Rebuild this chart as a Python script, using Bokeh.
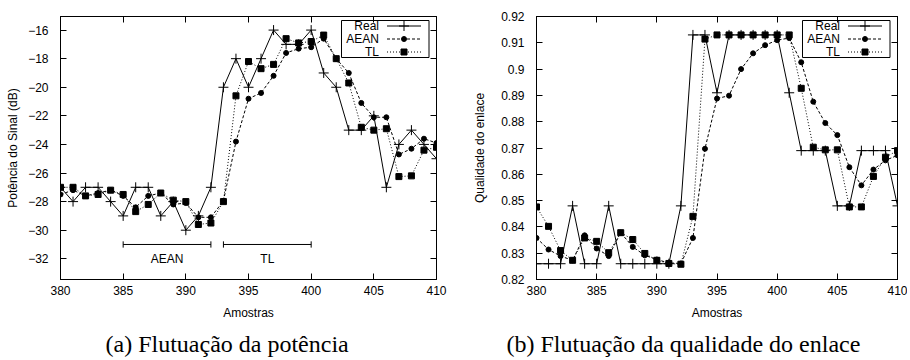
from bokeh.plotting import figure
from bokeh.layouts import row
from bokeh.models import Range1d, FixedTicker, LinearAxis, CustomJSTickFormatter, Title
from bokeh.core.properties import value
from bokeh.embed import file_html
from bokeh.resources import INLINE

# ---------------- data ----------------
amostras = list(range(380, 411))
x_ticks = [380, 385, 390, 395, 400, 405, 410]

series_names = ["Real", "AEAN", "TL"]

pot_real = [-27, -28, -27, -27, -28, -29, -27, -27, -29, -28, -30, -29, -27,
            -20, -18, -20, -18, -16, -17, -17, -16, -19, -20, -23, -23, -22,
            -27, -24, -23, -24, -25]
pot_aean = [-27.5, -27.2, -27.6, -27.4, -27.2, -27.6, -28.4, -27.6, -27.4, -28.2,
            -28.1, -29.1, -29.1, -27.95, -23.8, -20.8, -20.4, -19.2, -17.6, -17.3,
            -17.2, -16.6, -18.0, -19.0, -21.1, -22.1, -22.1, -24.7, -24.3, -23.6, -23.9]
pot_tl = [-27, -27, -27.6, -27.5, -27.2, -27.5, -28.7, -28.2, -27.4, -27.9,
          -28.0, -29.6, -29.5, -28.0, -20.6, -18.2, -18.7, -18.4, -16.6, -16.9,
          -16.8, -16.35, -18.0, -19.7, -22.8, -23.0, -22.9, -26.25, -26.2, -24.4, -24.2]
pot_yticks = [-32, -30, -28, -26, -24, -22, -20, -18, -16]

q_real = [0.826, 0.826, 0.826, 0.848, 0.826, 0.826, 0.848, 0.826, 0.826, 0.826,
          0.826, 0.826, 0.848, 0.913, 0.913, 0.891, 0.913, 0.913, 0.913, 0.913,
          0.913, 0.891, 0.869, 0.869, 0.869, 0.848, 0.848, 0.869, 0.869, 0.869, 0.848]
q_aean = [0.8358, 0.8314, 0.8289, 0.8273, 0.8368, 0.8318, 0.8289, 0.8378, 0.8324,
          0.8292, 0.8276, 0.8263, 0.8261, 0.8358, 0.8697, 0.8888, 0.8899, 0.9000,
          0.9060, 0.9091, 0.9110, 0.9118, 0.9026, 0.8876, 0.8795, 0.8749, 0.8627,
          0.8558, 0.8618, 0.8653, 0.8672]
q_tl = [0.8476, 0.8402, 0.8310, 0.8273, 0.8358, 0.8345, 0.8302, 0.8378, 0.8352,
        0.8299, 0.8273, 0.8261, 0.8258, 0.8440, 0.9114, 0.9130, 0.913, 0.913,
        0.913, 0.913, 0.913, 0.913, 0.8927, 0.8703, 0.8693, 0.8693, 0.8476,
        0.8476, 0.8592, 0.8665, 0.869]
q_yticks = [0.82, 0.83, 0.84, 0.85, 0.86, 0.87, 0.88, 0.89, 0.90, 0.91, 0.92]

# interval annotation in panel (a)
brk_labels = ["AEAN", "TL"]
brk_start = [385, 393]
brk_end = [392, 400]
brk_y = -31
brk_label_y = -32

FONT = "Liberation Sans"
styles = [("solid", "cross", 10), ("3 2", "circle", 5), ("1 2", "square", 6)]


def make_fig(ys, ymin, ymax, yticks, fmt_code, ylabel, caption, cap_off,
             fw, bl, br, lab_standoff):
    fh = 263
    p = figure(frame_width=fw, frame_height=fh,
               x_range=Range1d(380, 410), y_range=Range1d(ymin, ymax),
               output_backend="svg", toolbar_location=None,
               min_border_left=bl, min_border_right=br,
               min_border_top=16, min_border_bottom=78,
               background_fill_color="white", border_fill_color="white")
    p.grid.visible = False
    p.outline_line_color = "black"
    p.outline_line_width = 1

    p.xaxis.ticker = FixedTicker(ticks=x_ticks)
    p.yaxis.ticker = FixedTicker(ticks=yticks)
    p.yaxis.formatter = CustomJSTickFormatter(code=fmt_code)
    p.xaxis.axis_label = "Amostras"
    p.yaxis.axis_label = ylabel
    for ax in (p.xaxis[0], p.yaxis[0]):
        ax.major_tick_in = 6
        ax.major_tick_out = 0
        ax.minor_tick_line_color = None
        ax.axis_line_color = "black"
        ax.major_tick_line_color = "black"
        ax.major_label_text_font = FONT
        ax.major_label_text_font_size = "12px"
        ax.major_label_text_color = "black"
        ax.axis_label_text_font = FONT
        ax.axis_label_text_font_size = "12px"
        ax.axis_label_text_font_style = "normal"
        ax.axis_label_text_color = "black"
    p.xaxis.major_label_standoff = 6
    p.xaxis.axis_label_standoff = 8
    p.yaxis.major_label_standoff = 12
    p.yaxis.axis_label_standoff = lab_standoff

    # mirrored ticks (top / right)
    for side, tk in (("above", x_ticks), ("right", yticks)):
        ax = LinearAxis(ticker=FixedTicker(ticks=tk),
                        formatter=CustomJSTickFormatter(code="return ''"),
                        major_tick_in=6, major_tick_out=0,
                        minor_tick_line_color=None, major_label_standoff=0,
                        major_label_text_font_size="0px",
                        axis_line_color="black", major_tick_line_color="black")
        p.add_layout(ax, side)

    # series
    for yv, (dash, marker, size) in zip(ys, styles):
        p.line(amostras, yv, line_color="black", line_width=1, line_dash=dash)
        p.scatter(amostras, yv, marker=marker, size=size, line_color="black",
                  fill_color="black", line_width=1)

    # legend drawn in gnuplot style (label left, sample right)
    def X(px):
        return 410 - px * (410 - 380) / fw

    def Y(py):
        return ymax - py * (ymax - ymin) / fh

    p.quad(left=[X(95)], right=[X(7.5)], top=[Y(4)], bottom=[Y(41)],
           fill_color="white", line_color="black", line_width=1)
    for i, (name, (dash, marker, size)) in enumerate(zip(series_names, styles)):
        yy = Y(9.5 + 13 * i)
        p.text(x=[X(57.5)], y=[yy], text=[name], text_align="right",
               text_baseline="middle", text_font=value(FONT),
               text_font_size="12px", text_color="black")
        p.line([X(49.5), X(15.5)], [yy, yy], line_color="black", line_width=1,
               line_dash=dash)
        p.scatter([X(32.5)], [yy], marker=marker, size=size, line_color="black",
                  fill_color="black")

    p.add_layout(Title(text=caption, align="left", offset=cap_off,
                       text_font="Liberation Serif", text_font_size="24px",
                       text_font_style="normal", text_color="black",
                       standoff=12), "below")
    return p


p1 = make_fig([pot_real, pot_aean, pot_tl], -33.45, -15.05, pot_yticks,
              "return (tick < 0 ? '\\u2212' : '') + Math.abs(tick).toString();",
              "Potência do Sinal (dB)", "(a) Flutuação da potência", 45,
              376, 60, 19, 5)

# interval brackets
p1.segment(x0=brk_start, y0=[brk_y] * 2, x1=brk_end, y1=[brk_y] * 2,
           line_color="black", line_width=1)
p1.segment(x0=brk_start + brk_end, y0=[brk_y - 0.22] * 4,
           x1=brk_start + brk_end, y1=[brk_y + 0.22] * 4,
           line_color="black", line_width=1)
p1.text(x=[(a + b) / 2 for a, b in zip(brk_start, brk_end)],
        y=[brk_label_y] * 2, text=brk_labels, text_align="center",
        text_baseline="middle", text_font=value(FONT), text_font_size="12px",
        text_color="black")

p2 = make_fig([q_real, q_aean, q_tl], 0.82, 0.92, q_yticks,
              "return (+tick.toFixed(2)).toString();",
              "Qualidade do enlace", "(b) Flutuação da qualidade do enlace", -30,
              361, 81, 10, 11)

layout = row(p1, p2)
open("out.html", "w").write(file_html(layout, INLINE))
